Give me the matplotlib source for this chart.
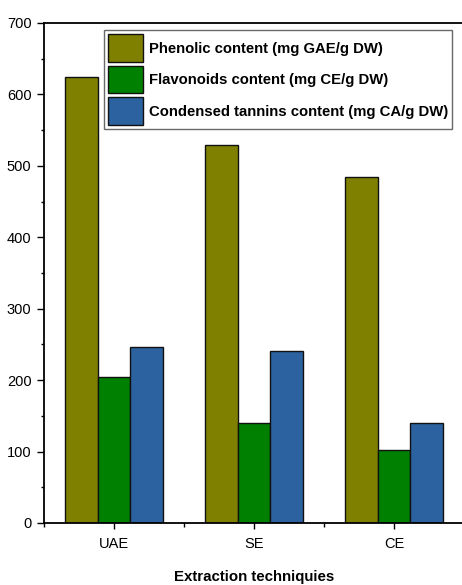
import numpy as np
import matplotlib
matplotlib.use("Agg")
import matplotlib.pyplot as plt
from matplotlib.ticker import MultipleLocator, FixedLocator, NullFormatter

plt.rcParams['font.family'] = ['Liberation Sans Narrow', 'Liberation Sans', 'DejaVu Sans']

techniques = ["UAE", "SE", "CE"]
phenolic = [625, 529, 484]
flavonoids = [205, 140, 102]
tannins = [246, 241, 140]
series_labels = [
    "Phenolic content (mg GAE/g DW)",
    "Flavonoids content (mg CE/g DW)",
    "Condensed tannins content (mg CA/g DW)",
]
colors = ["#808000", "#008000", "#2C62A0"]

fig = plt.figure(figsize=(4.62, 5.85), dpi=100)
ax = fig.add_axes([44 / 462, 1 - 523 / 585, 420 / 462, 500 / 585])

x = np.arange(len(techniques))
w = 0.233
for i, (vals, lab, col) in enumerate(zip([phenolic, flavonoids, tannins], series_labels, colors)):
    ax.bar(x + (i - 1) * w, vals, width=w, color=col, edgecolor="#111111",
           linewidth=1.0, label=lab, zorder=2)

ax.set_xlim(-0.5, 2.5)
ax.set_ylim(0, 700)

# category ticks at group centres, minor ticks at group boundaries
ax.set_xticks(x)
ax.set_xticklabels(techniques, fontsize=10.5)
ax.tick_params(axis="x", which="major", direction="out", length=4, width=1, pad=6)
ax.xaxis.set_minor_locator(FixedLocator([-0.5, 0.5, 1.5, 2.5]))
ax.xaxis.set_minor_formatter(NullFormatter())
ax.tick_params(axis="x", which="minor", direction="out", length=3, width=1)

ax.yaxis.set_major_locator(MultipleLocator(100))
ax.yaxis.set_minor_locator(MultipleLocator(50))
ax.tick_params(axis="y", which="major", direction="out", length=5, width=1, labelsize=10.5, pad=4)
ax.tick_params(axis="y", which="minor", direction="out", length=2.5, width=1)

for s in ax.spines.values():
    s.set_linewidth(1.3)
    s.set_color("black")

ax.set_xlabel("Extraction techniquies", fontsize=10.8, fontweight="bold", labelpad=14)

leg = ax.legend(loc="upper left", bbox_to_anchor=(60 / 420, 493 / 500),
                prop={"size": 10.7, "weight": "bold"}, frameon=True, fancybox=False,
                edgecolor="#444444", handlelength=2.35, handleheight=2.45,
                handletextpad=0.35, labelspacing=0.28, borderpad=0.3,
                borderaxespad=0)
leg.get_frame().set_linewidth(1.0)

fig.savefig("out.png", dpi=100)
